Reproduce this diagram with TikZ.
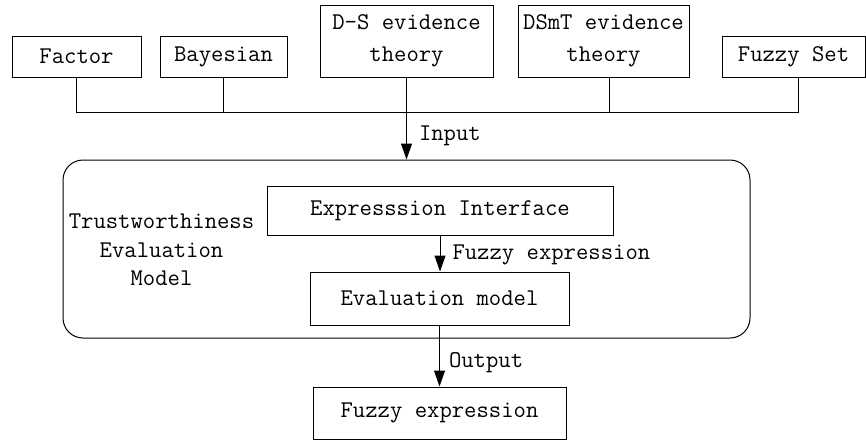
\documentclass[tikz,border=0pt]{standalone}
\usepackage{fontspec}
\setmonofont{Latin Modern Mono}
\usetikzlibrary{arrows.meta,calc}
\begin{document}
\begin{tikzpicture}[x=1pt,y=-1pt,
  box/.style={draw,line width=1pt,inner sep=0pt,align=center,font=\ttfamily\fontsize{24}{32}\selectfont},
  conn/.style={line width=1pt},
  arr/.style={line width=1pt,-{Triangle[length=16pt,width=11pt]}},
  lbl/.style={anchor=west,inner sep=0pt,font=\ttfamily\fontsize{24}{28}\selectfont}]
\useasboundingbox (0,0) rectangle (866,440);
% top boxes
\node[box,minimum width=129,minimum height=41] (factor) at (76.5,56.5) {Factor};
\node[box,minimum width=127,minimum height=41] (bayes) at (223.5,56.5) {Bayesian};
\node[box,minimum width=173,minimum height=72] (ds) at (406.5,41) {D-S evidence\\theory};
\node[box,minimum width=171,minimum height=72] (dsmt) at (603.5,41) {DSmT evidence\\theory};
\node[box,minimum width=143,minimum height=41] (fuzzyset) at (793.5,56.5) {Fuzzy Set};
% model container
\node[draw,line width=1pt,rounded corners=20pt,minimum width=687,minimum height=178,inner sep=0pt] (model) at (406.5,249) {};
\node[align=center,inner sep=0pt,font=\ttfamily\fontsize{24}{28.5}\selectfont] (trust) at (161.5,250) {Trustworthiness\\Evaluation\\Model};
\node[box,minimum width=346,minimum height=49] (expr) at (440,210.5) {Expresssion Interface};
\node[box,minimum width=259,minimum height=53] (eval) at (439.5,298.5) {Evaluation model};
\node[box,minimum width=253,minimum height=52] (fexpr) at (439.5,413) {Fuzzy expression};
% bus
\coordinate (bus) at (406.5,112);
\coordinate (fsdrop) at ([xshift=4.5pt]fuzzyset.south);
\coordinate (dsmtdrop) at ([xshift=5.5pt]dsmt.south);
\draw[conn] (factor.south) |- (fsdrop |- bus) -- (fsdrop);
\draw[conn] (bayes.south) -- (bayes.south |- bus);
\draw[conn] (dsmtdrop) -- (dsmtdrop |- bus);
\draw[conn] (ds.south) -- (bus);
\draw[arr] (bus) -- node[lbl,midway,xshift=12pt] {Input} (model.north);
\draw[arr] (expr.south) -- node[lbl,midway,xshift=12pt,yshift=-1.5pt] {Fuzzy expression} (expr.south |- eval.north);
\draw[arr] (eval.south) -- node[lbl,midway,xshift=9pt,yshift=-7pt] {Output} (fexpr.north);
\end{tikzpicture}
\end{document}
